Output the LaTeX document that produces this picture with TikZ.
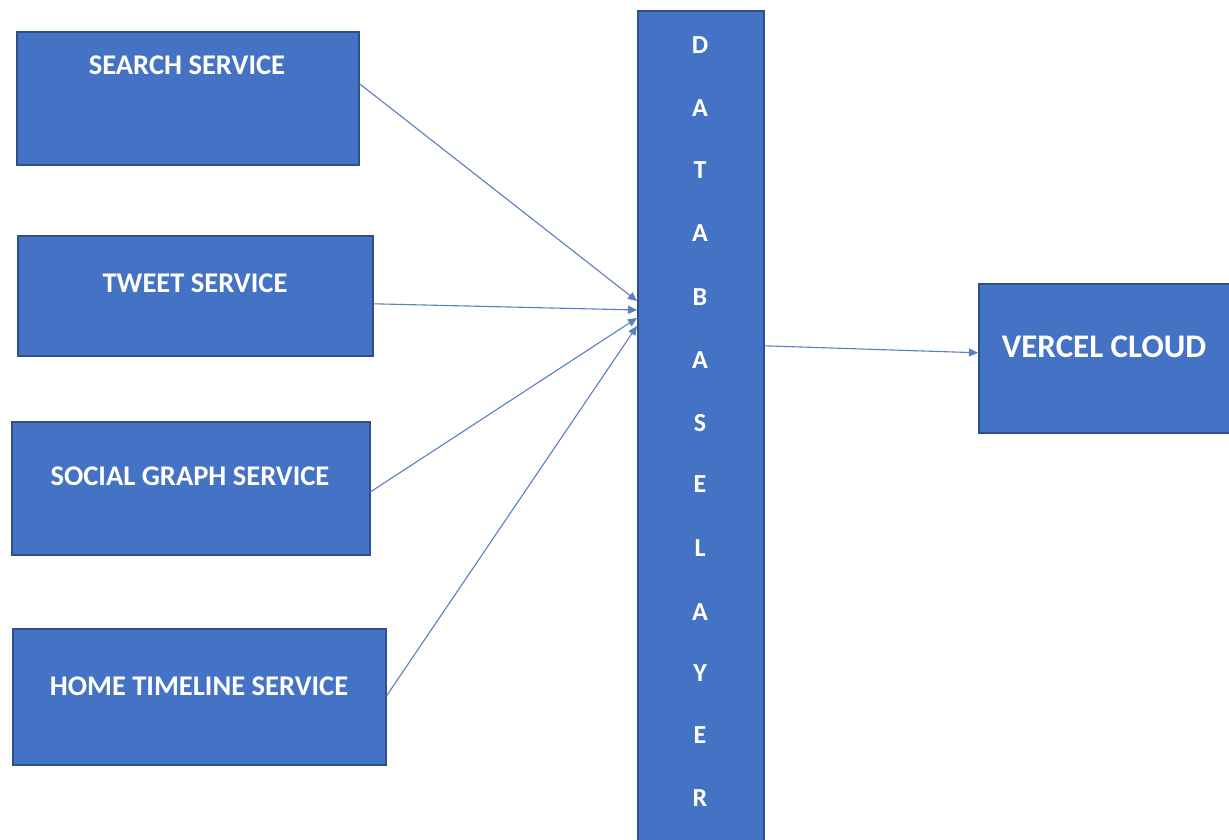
\documentclass[tikz,border=0pt]{standalone}
\usepackage{fontspec}
\setmainfont{Carlito}
\usetikzlibrary{arrows.meta,calc}
\definecolor{boxfill}{HTML}{4472C4}
\definecolor{boxline}{HTML}{2F4F8A}
\definecolor{conncol}{HTML}{5A7FC0}
\begin{document}
\begin{tikzpicture}[x=1pt,y=-1pt,
  box/.style={draw=boxline,line width=1.6pt,fill=boxfill,inner sep=0pt,anchor=north west},
  lbl/.style={text=white,font=\bfseries\fontsize{28.5}{31}\selectfont,inner sep=0pt},
  vlbl/.style={text=white,font=\bfseries\fontsize{33}{36}\selectfont,inner sep=0pt},
  letter/.style={text=white,font=\bfseries\fontsize{26}{28}\selectfont,inner sep=0pt},
  conn/.style={draw=conncol,line width=1.1pt,-{Triangle[length=9pt,width=8pt]}}]
\useasboundingbox (0,0) rectangle (1229,839);
\fill[white] (0,0) rectangle (1229,839);
% boxes
\node[box,minimum width=342pt,minimum height=133pt] (search) at (16,31) {};
\node[box,minimum width=355pt,minimum height=120pt] (tweet) at (17,235) {};
\node[box,minimum width=358pt,minimum height=133pt] (social) at (11,421) {};
\node[box,minimum width=373pt,minimum height=136pt] (home) at (12,628) {};
\node[box,minimum width=126pt,minimum height=845pt] (dl) at (637,10) {};
\node[box,minimum width=260pt,minimum height=149pt] (vercel) at (978,283) {};
% labels
\node[lbl] (searchtxt) at (187,65) {SEARCH SERVICE};
\node[lbl] (tweettxt) at (195,283) {TWEET SERVICE};
\node[lbl] (socialtxt) at (190,476) {SOCIAL GRAPH SERVICE};
\node[lbl] (hometxt) at (199,686) {HOME TIMELINE SERVICE};
\node[vlbl] (verceltxt) at (1104,347) {VERCEL CLOUD};
\foreach \ch/\yy [count=\i] in {D/45,A/108,T/170,A/233,B/297,A/360,S/423,E/484,L/548,A/612,Y/673,E/735,R/798}
  \node[letter] (dlch\i) at (700,\yy) {\ch};
% targets
\coordinate (t1) at (637,301);
\coordinate (t2) at (637,310);
\coordinate (t3) at (637,318);
\coordinate (t4) at (637,326);
% connectors
\draw[conn] ([yshift=14.5pt]search.east) -- (t1);
\draw[conn] ([yshift=-8pt]tweet.east) -- (t2);
\draw[conn] ([yshift=-3.5pt]social.east) -- (t3);
\draw[conn] ([yshift=1pt]home.east) -- (t4);
\draw[conn] ([yshift=87.5pt]dl.east) -- ([yshift=5.5pt]vercel.west);
\end{tikzpicture}
\end{document}
